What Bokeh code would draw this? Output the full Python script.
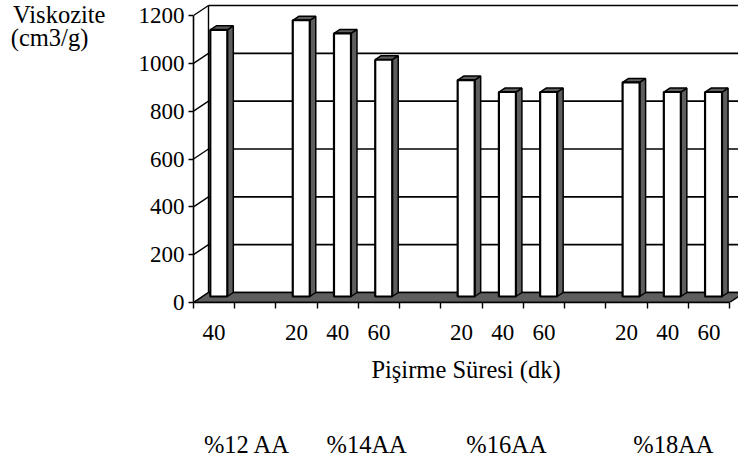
from bokeh.plotting import figure
from bokeh.models import Range1d, FixedTicker, LinearAxis
from bokeh.embed import file_html
from bokeh.resources import INLINE

# ---- data ----
groups = ["%12 AA", "%14AA", "%16AA", "%18AA"]
group_of = [0, 1, 1, 1, 2, 2, 2, 3, 3, 3]
times = ["40", "20", "40", "60", "20", "40", "60", "20", "40", "60"]
viscosity = [1115, 1155, 1100, 990, 905, 855, 855, 895, 855, 855]
y_ticks = [0, 200, 400, 600, 800, 1000, 1200]
y_title = ["Viskozite", "(cm3/g)\u00a0\u00a0\u2009"]

# ---- layout constants ----
W, H = 738, 466
FL, FB = 193, 164           # frame left / bottom border (px)
FW, FH = W - FL, H - FB     # frame size in px
PX_X = 41.23                # px per slot
PX_Y = 287 / 1200           # px per unit
DX, DY = 15 / PX_X, 10 / PX_Y       # wall depth
BX0, BW = 16.8 / PX_X, 17 / PX_X    # bar front face offset/width
SX, SY = 6 / PX_X, 4 / PX_Y         # bar depth
BZ = 6 / PX_Y                        # bar base height (mid-depth)
GROUP_LABEL_X = [1.30, 4.20, 7.59, 11.64]
TITLE_Y = [(FH - 9) / PX_Y, (FH - 36.5) / PX_Y]
FONT = "Liberation Serif"
NUM_SIZE = "23px"
TXT_SIZE = "24.5px"
SHADE = dict(fill_color="#5e5e5e", line_color="black", line_width=1.5)

n_slots = len(times) + len(groups) - 1
slot = [i + g for i, g in enumerate(group_of)]
x_end = FW / PX_X
y_end = FH / PX_Y

p = figure(width=W, height=H, x_range=Range1d(0, x_end), y_range=Range1d(0, y_end),
           output_backend="svg", toolbar_location=None,
           x_axis_type=None, y_axis_type=None,
           min_border_left=FL, min_border_right=0, min_border_top=0, min_border_bottom=FB)
p.outline_line_color = None
p.background_fill_color = "white"
p.border_fill_color = "white"

# back wall gridlines
gy = [v + DY for v in y_ticks]
p.segment(x0=[DX] * len(gy), y0=gy, x1=[x_end] * len(gy), y1=gy,
          line_color="black", line_width=1.6)
# side wall diagonals
p.segment(x0=[0] * len(y_ticks), y0=y_ticks, x1=[DX] * len(y_ticks), y1=gy,
          line_color="black", line_width=1.4)
# back wall left edge
p.segment(x0=[DX], y0=[DY], x1=[DX], y1=[y_ticks[-1] + DY], line_color="black", line_width=1.4)

# floor
p.patch(x=[0, n_slots, n_slots + DX, DX], y=[0, 0, DY, DY], **SHADE)

# bars
lefts = [s + BX0 for s in slot]
rights = [l + BW for l in lefts]
tops = [BZ + v for v in viscosity]
side_xs = [[r, r + SX, r + SX, r] for r in rights]
side_ys = [[BZ, BZ + SY, t + SY, t] for t in tops]
top_xs = [[l, l + SX, r + SX, r] for l, r in zip(lefts, rights)]
top_ys = [[t, t + SY, t + SY, t] for t in tops]
p.patches(xs=side_xs, ys=side_ys, **SHADE)
p.patches(xs=top_xs, ys=top_ys, **SHADE)
p.quad(left=lefts, right=rights, bottom=[BZ] * len(tops), top=tops,
       fill_color="white", line_color="black", line_width=2.2)

# y axis
yax = LinearAxis(ticker=FixedTicker(ticks=y_ticks, minor_ticks=[]), bounds=(0, y_ticks[-1]))
yax.axis_line_color = "black"
yax.axis_line_width = 1.6
yax.major_tick_out = 5
yax.major_tick_in = 0
yax.major_tick_line_width = 1.5
yax.major_label_standoff = 4
yax.major_label_text_font = FONT
yax.major_label_text_font_size = NUM_SIZE
yax.major_label_text_color = "black"
p.add_layout(yax, "left")

# y title as an outer axis
tax = LinearAxis(ticker=FixedTicker(ticks=TITLE_Y, minor_ticks=[]))
tax.major_label_overrides = {y: t for y, t in zip(TITLE_Y, y_title)}
tax.axis_line_color = None
tax.major_tick_line_color = None
tax.minor_tick_line_color = None
tax.major_tick_out = 0
tax.major_label_standoff = 30
tax.major_label_text_font = FONT
tax.major_label_text_font_size = TXT_SIZE
tax.major_label_text_color = "black"
p.add_layout(tax, "left")

# x axis: time labels at slot centres, ticks at slot boundaries
centers = [s + 0.5 for s in slot]
xax = LinearAxis(ticker=FixedTicker(ticks=centers, minor_ticks=list(range(n_slots + 1))),
                 bounds=(0, n_slots))
xax.major_label_overrides = {c: t for c, t in zip(centers, times)}
xax.axis_line_color = "black"
xax.axis_line_width = 1.6
xax.major_tick_out = 0
xax.major_tick_in = 0
xax.minor_tick_out = 6
xax.minor_tick_in = 0
xax.minor_tick_line_width = 1.4
xax.major_label_standoff = 16
xax.major_label_text_font = FONT
xax.major_label_text_font_size = NUM_SIZE
xax.major_label_text_color = "black"
xax.axis_label = "Pişirme Süresi (dk)"
xax.axis_label_standoff = 13
xax.axis_label_text_font = FONT
xax.axis_label_text_font_size = TXT_SIZE
xax.axis_label_text_font_style = "normal"
xax.axis_label_text_color = "black"
p.add_layout(xax, "below")

# group axis
gax = LinearAxis(ticker=FixedTicker(ticks=GROUP_LABEL_X, minor_ticks=[]))
gax.major_label_overrides = {x: g for x, g in zip(GROUP_LABEL_X, groups)}
gax.axis_line_color = None
gax.major_tick_line_color = None
gax.minor_tick_line_color = None
gax.major_tick_out = 0
gax.major_label_standoff = 45
gax.major_label_text_font = FONT
gax.major_label_text_font_size = TXT_SIZE
gax.major_label_text_color = "black"
p.add_layout(gax, "below")

open("out.html", "w").write(file_html(p, INLINE))
